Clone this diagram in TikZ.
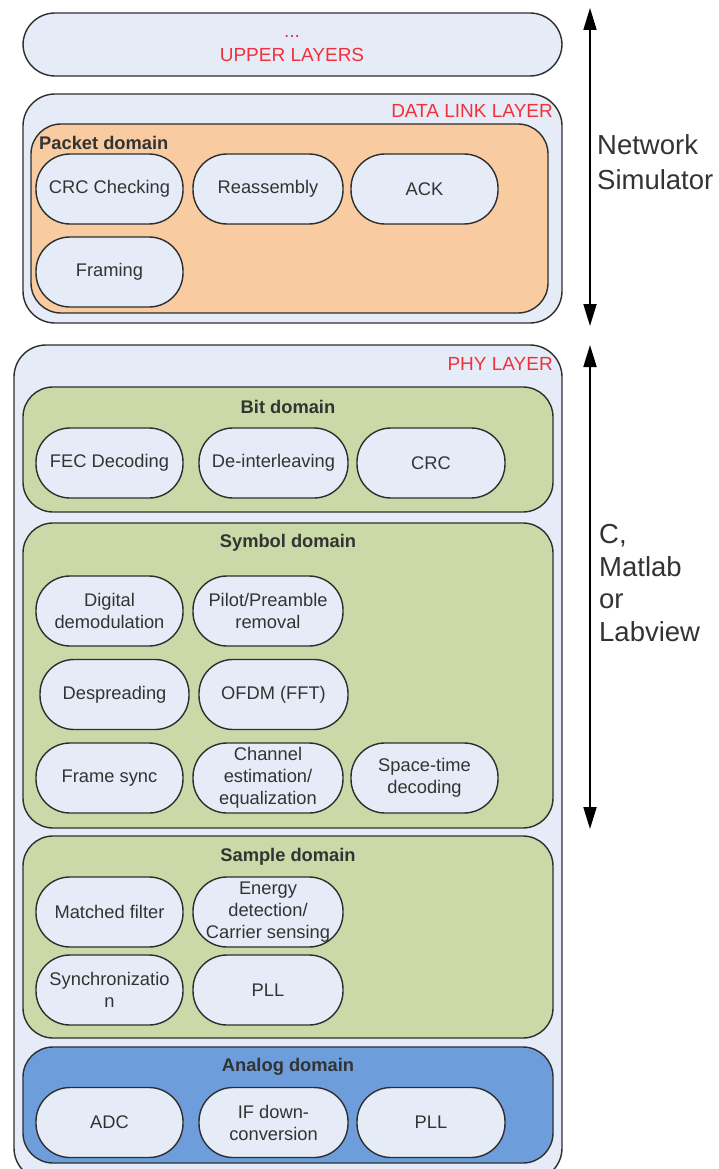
\documentclass[tikz,border=0pt]{standalone}
\usepackage{fontspec}
\setmainfont{Liberation Sans}
\usetikzlibrary{arrows.meta}
\definecolor{pale}{HTML}{E6ECF7}
\definecolor{orangefill}{HTML}{F9CBA0}
\definecolor{greenfill}{HTML}{CAD9A8}
\definecolor{bluefill}{HTML}{6D9EDB}
\definecolor{redtxt}{HTML}{F2303C}
\definecolor{edge}{HTML}{2E2E2E}
\definecolor{txt}{HTML}{333333}
\begin{document}
\begin{tikzpicture}[x=1pt,y=-1pt,
  layerbox/.style={draw=edge, line width=1.4pt, fill=pale, rounded corners=32pt, inner sep=0pt},
  domainbox/.style={draw=edge, line width=1.4pt, rounded corners=30pt, inner sep=0pt},
  pill/.style={draw=edge, line width=1.4pt, fill=pale, rounded corners=34pt,
    minimum width=147pt, minimum height=70pt, inner sep=0pt, align=center,
    font=\fontsize{18.3}{22}\selectfont, text=txt},
  redlabel/.style={text=redtxt, font=\fontsize{19}{20}\selectfont, inner sep=0pt},
  domlabel/.style={text=txt, font=\fontsize{18.3}{20}\selectfont\bfseries, inner sep=0pt},
  sidelabel/.style={text=txt, align=left, inner sep=0pt, anchor=west},
  dblarrow/.style={line width=1.8pt, {Triangle[length=22pt,width=13pt]}-{Triangle[length=22pt,width=13pt]}}
]
\useasboundingbox (0,0) rectangle (718,1169);

% upper layers
\node[layerbox, minimum width=539pt, minimum height=63pt] (upper) at (292.5,44.5) {};
\node[redlabel] (dots) at (292,36) {...};
\node[redlabel] (upperlbl) at (292,55) {UPPER LAYERS};

% data link layer
\node[layerbox, minimum width=539pt, minimum height=229pt] (dll) at (292.5,208.5) {};
\node[redlabel, anchor=east] (dlllbl) at (553,111) {DATA LINK LAYER};
\node[domainbox, fill=orangefill, minimum width=517pt, minimum height=189pt] (packet) at (289.5,218.5) {};
\node[domlabel, anchor=west] (packetlbl) at (39,143) {Packet domain};
\node[pill] (crcchk) at (109.5,189) {CRC Checking};
\node[pill, minimum width=150pt] (reasm) at (268,189) {Reassembly};
\node[pill] (ack) at (424.5,189) {ACK};
\node[pill] (framing) at (109.5,272) {Framing};

% PHY layer
\node[layerbox, minimum width=548pt, minimum height=835pt] (phy) at (288,762.5) {};
\node[redlabel, anchor=east] (phylbl) at (553,364) {PHY LAYER};

% bit domain
\node[domainbox, fill=greenfill, minimum width=530pt, minimum height=125pt] (bit) at (288,449.5) {};
\node[domlabel] (bitlbl) at (288,407) {Bit domain};
\node[pill] (fec) at (109.5,463) {FEC Decoding};
\node[pill, minimum width=149pt] (deint) at (273.5,463) {De-interleaving};
\node[pill, minimum width=148pt] (crc) at (431,463) {CRC};

% symbol domain
\node[domainbox, fill=greenfill, minimum width=530pt, minimum height=305pt] (symbol) at (288,675.5) {};
\node[domlabel] (symlbl) at (288,543) {Symbol domain};
\node[pill] (digdem) at (109.5,611) {Digital\\demodulation};
\node[pill, minimum width=150pt] (pilot) at (268,611) {Pilot/Preamble\\removal};
\node[pill, minimum width=149pt] (despread) at (114.5,694.5) {Despreading};
\node[pill, minimum width=149pt] (ofdm) at (273.5,694.5) {OFDM (FFT)};
\node[pill] (fsync) at (109.5,778) {Frame sync};
\node[pill, minimum width=150pt] (chest) at (268,778) {Channel\\estimation/\\equalization};
\node[pill] (stdec) at (424.5,778) {Space-time\\decoding};

% sample domain
\node[domainbox, fill=greenfill, minimum width=530pt, minimum height=202pt] (sample) at (288,937) {};
\node[domlabel] (samlbl) at (288,857) {Sample domain};
\node[pill] (mfilt) at (109.5,912) {Matched filter};
\node[pill, minimum width=150pt] (energy) at (268,912) {Energy\\detection/\\Carrier sensing};
\node[pill] (synch) at (109.5,990) {Synchronizatio\\n};
\node[pill, minimum width=150pt] (pllS) at (268,990) {PLL};

% analog domain
\node[domainbox, fill=bluefill, minimum width=530pt, minimum height=116pt] (analog) at (288,1105) {};
\node[domlabel] (anlbl) at (288,1067) {Analog domain};
\node[pill] (adc) at (109.5,1122.5) {ADC};
\node[pill, minimum width=149pt] (ifdc) at (273.5,1122.5) {IF down-\\conversion};
\node[pill, minimum width=148pt] (pllA) at (431,1122.5) {PLL};

% side arrows
\coordinate (a1top) at (590,8);
\coordinate (a1bot) at (590,326);
\coordinate (a2top) at (590,345);
\coordinate (a2bot) at (590,829);
\draw[dblarrow] (a1top) -- (a1bot);
\draw[dblarrow] (a2top) -- (a2bot);
\node[sidelabel, font=\fontsize{27.5}{35}\selectfont] (netsim) at (597,162.5) {Network\\Simulator};
\node[sidelabel, font=\fontsize{27.5}{32.5}\selectfont] (cmat) at (599,583) {C,\\Matlab\\or\\Labview};
\end{tikzpicture}
\end{document}
